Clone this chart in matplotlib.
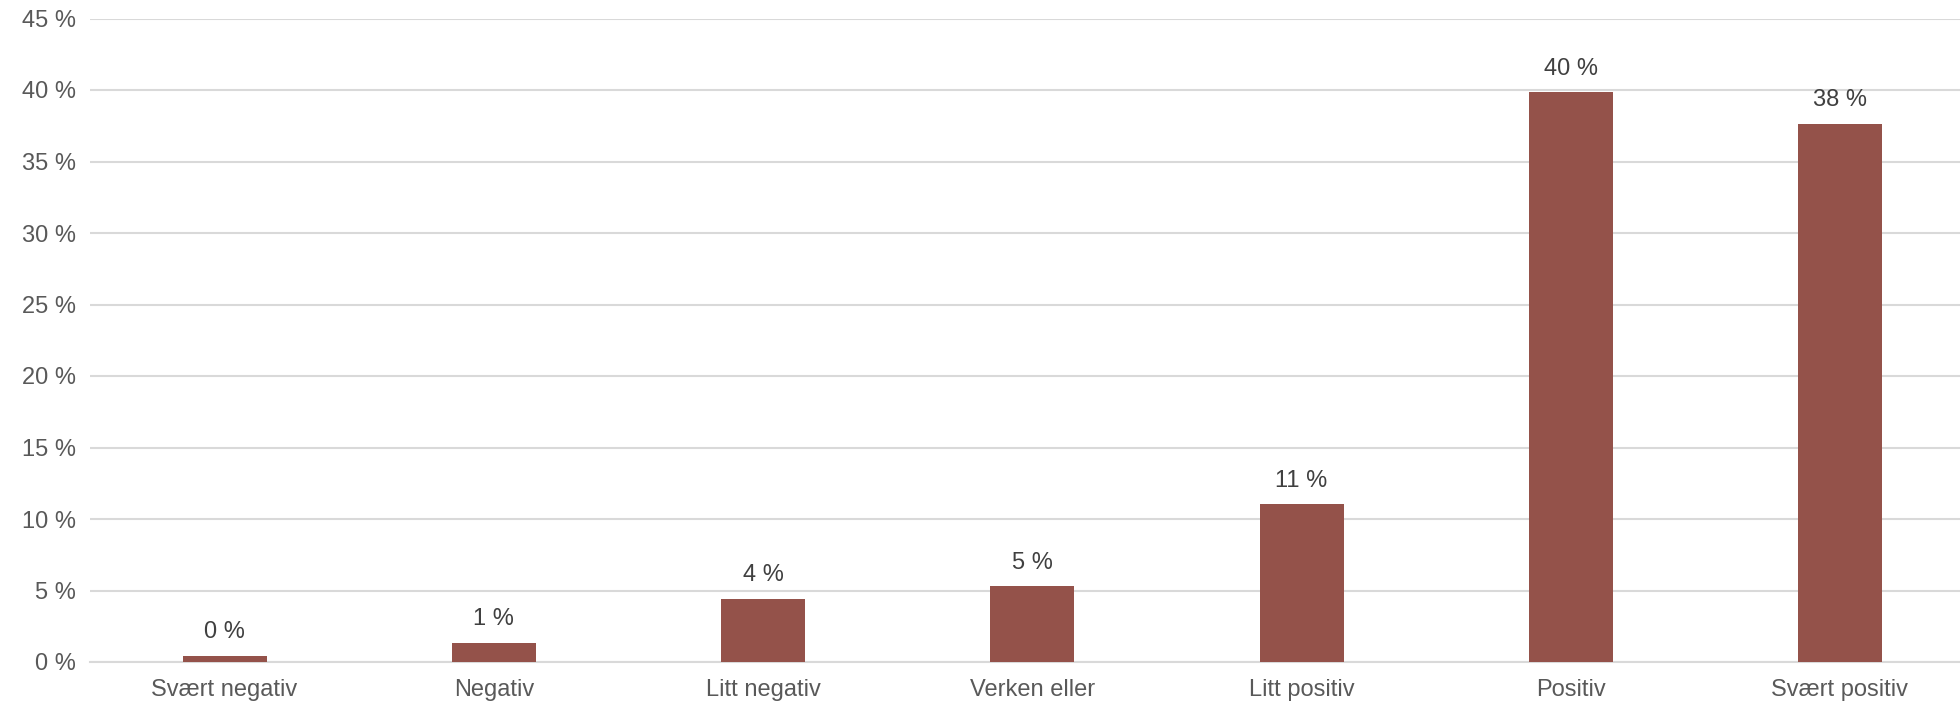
import matplotlib
matplotlib.use("Agg")
import matplotlib.pyplot as plt
import numpy as np

categories = ["Svært negativ", "Negativ", "Litt negativ", "Verken eller",
              "Litt positiv", "Positiv", "Svært positiv"]
values = [0.44, 1.33, 4.42, 5.3, 11.03, 39.86, 37.65]
labels = ["0 %", "1 %", "4 %", "5 %", "11 %", "40 %", "38 %"]
yticks = [0, 5, 10, 15, 20, 25, 30, 35, 40, 45]

plt.rcParams['font.family'] = ['Liberation Sans', 'DejaVu Sans']
text_color = "#595959"
bar_color = "#94524A"

fig = plt.figure(figsize=(19.6, 7.04), dpi=100)
# axes spans slightly beyond right edge, like the cropped original
ax = fig.add_axes([90 / 1960, 42 / 704, 1884.6 / 1960, 643.5 / 704])

x = np.arange(len(categories))
bars = ax.bar(x, values, width=0.312, color=bar_color, linewidth=0, zorder=3)

for b, lab in zip(bars, labels):
    ax.annotate(lab, (b.get_x() + b.get_width() / 2, b.get_height()),
                xytext=(0, 9), textcoords="offset points",
                ha="center", va="bottom", fontsize=17, color="#404040")

ax.set_xlim(-0.5, len(categories) - 0.5)
ax.set_ylim(0, 45)
ax.set_yticks(yticks)
ax.set_yticklabels([f"{t} %" for t in yticks])
ax.set_xticks(x)
ax.set_xticklabels(categories)
ax.tick_params(axis="both", length=0, labelsize=17, colors=text_color)
ax.tick_params(axis="y", pad=10)
ax.tick_params(axis="x", pad=12)

ax.grid(axis="y", color="#d9d9d9", linewidth=1.5, zorder=0)
for s in ["top", "right", "left"]:
    ax.spines[s].set_visible(False)
ax.spines["bottom"].set_color("#d9d9d9")
ax.spines["bottom"].set_linewidth(1.5)

fig.savefig("out.png", dpi=100)
